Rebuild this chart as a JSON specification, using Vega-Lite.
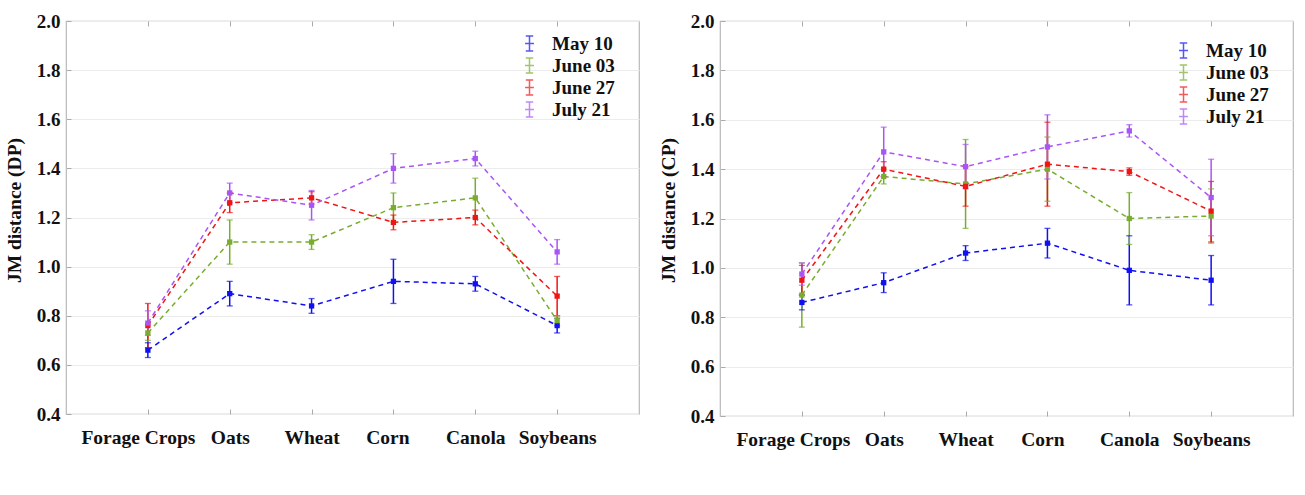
{
  "$schema": "https://vega.github.io/schema/vega-lite/v6.json",
  "background": "white",
  "padding": {"left": 3, "top": 11, "right": 2, "bottom": 4},
  "spacing": 17,
  "datasets": {
    "dp": [
      {"crop": "Forage Crops", "date": "May 10", "jm": 0.66, "lo": 0.63, "hi": 0.69},
      {"crop": "Forage Crops", "date": "June 03", "jm": 0.73, "lo": 0.70, "hi": 0.76},
      {"crop": "Forage Crops", "date": "June 27", "jm": 0.76, "lo": 0.67, "hi": 0.85},
      {"crop": "Forage Crops", "date": "July 21", "jm": 0.77, "lo": 0.72, "hi": 0.82},
      {"crop": "Oats", "date": "May 10", "jm": 0.89, "lo": 0.84, "hi": 0.94},
      {"crop": "Oats", "date": "June 03", "jm": 1.10, "lo": 1.01, "hi": 1.19},
      {"crop": "Oats", "date": "June 27", "jm": 1.26, "lo": 1.22, "hi": 1.30},
      {"crop": "Oats", "date": "July 21", "jm": 1.30, "lo": 1.26, "hi": 1.34},
      {"crop": "Wheat", "date": "May 10", "jm": 0.84, "lo": 0.81, "hi": 0.87},
      {"crop": "Wheat", "date": "June 03", "jm": 1.10, "lo": 1.07, "hi": 1.13},
      {"crop": "Wheat", "date": "June 27", "jm": 1.28, "lo": 1.255, "hi": 1.305},
      {"crop": "Wheat", "date": "July 21", "jm": 1.25, "lo": 1.19, "hi": 1.31},
      {"crop": "Corn", "date": "May 10", "jm": 0.94, "lo": 0.85, "hi": 1.03},
      {"crop": "Corn", "date": "June 03", "jm": 1.24, "lo": 1.18, "hi": 1.30},
      {"crop": "Corn", "date": "June 27", "jm": 1.18, "lo": 1.15, "hi": 1.21},
      {"crop": "Corn", "date": "July 21", "jm": 1.40, "lo": 1.34, "hi": 1.46},
      {"crop": "Canola", "date": "May 10", "jm": 0.93, "lo": 0.90, "hi": 0.96},
      {"crop": "Canola", "date": "June 03", "jm": 1.28, "lo": 1.20, "hi": 1.36},
      {"crop": "Canola", "date": "June 27", "jm": 1.20, "lo": 1.17, "hi": 1.23},
      {"crop": "Canola", "date": "July 21", "jm": 1.44, "lo": 1.41, "hi": 1.47},
      {"crop": "Soybeans", "date": "May 10", "jm": 0.76, "lo": 0.73, "hi": 0.79},
      {"crop": "Soybeans", "date": "June 03", "jm": 0.78, "lo": 0.76, "hi": 0.80},
      {"crop": "Soybeans", "date": "June 27", "jm": 0.88, "lo": 0.80, "hi": 0.96},
      {"crop": "Soybeans", "date": "July 21", "jm": 1.06, "lo": 1.01, "hi": 1.11}
    ],
    "cp": [
      {"crop": "Forage Crops", "date": "May 10", "jm": 0.86, "lo": 0.83, "hi": 0.89},
      {"crop": "Forage Crops", "date": "June 03", "jm": 0.89, "lo": 0.76, "hi": 1.02},
      {"crop": "Forage Crops", "date": "June 27", "jm": 0.95, "lo": 0.89, "hi": 1.01},
      {"crop": "Forage Crops", "date": "July 21", "jm": 0.975, "lo": 0.93, "hi": 1.02},
      {"crop": "Oats", "date": "May 10", "jm": 0.94, "lo": 0.90, "hi": 0.98},
      {"crop": "Oats", "date": "June 03", "jm": 1.37, "lo": 1.34, "hi": 1.40},
      {"crop": "Oats", "date": "June 27", "jm": 1.40, "lo": 1.37, "hi": 1.43},
      {"crop": "Oats", "date": "July 21", "jm": 1.47, "lo": 1.37, "hi": 1.57},
      {"crop": "Wheat", "date": "May 10", "jm": 1.06, "lo": 1.03, "hi": 1.09},
      {"crop": "Wheat", "date": "June 03", "jm": 1.34, "lo": 1.16, "hi": 1.52},
      {"crop": "Wheat", "date": "June 27", "jm": 1.33, "lo": 1.25, "hi": 1.41},
      {"crop": "Wheat", "date": "July 21", "jm": 1.41, "lo": 1.32, "hi": 1.50},
      {"crop": "Corn", "date": "May 10", "jm": 1.10, "lo": 1.04, "hi": 1.16},
      {"crop": "Corn", "date": "June 03", "jm": 1.40, "lo": 1.27, "hi": 1.53},
      {"crop": "Corn", "date": "June 27", "jm": 1.42, "lo": 1.25, "hi": 1.59},
      {"crop": "Corn", "date": "July 21", "jm": 1.49, "lo": 1.36, "hi": 1.62},
      {"crop": "Canola", "date": "May 10", "jm": 0.99, "lo": 0.85, "hi": 1.13},
      {"crop": "Canola", "date": "June 03", "jm": 1.20, "lo": 1.095, "hi": 1.305},
      {"crop": "Canola", "date": "June 27", "jm": 1.39, "lo": 1.375, "hi": 1.405},
      {"crop": "Canola", "date": "July 21", "jm": 1.555, "lo": 1.53, "hi": 1.58},
      {"crop": "Soybeans", "date": "May 10", "jm": 0.95, "lo": 0.85, "hi": 1.05},
      {"crop": "Soybeans", "date": "June 03", "jm": 1.21, "lo": 1.10, "hi": 1.32},
      {"crop": "Soybeans", "date": "June 27", "jm": 1.23, "lo": 1.105, "hi": 1.35},
      {"crop": "Soybeans", "date": "July 21", "jm": 1.285, "lo": 1.13, "hi": 1.44}
    ]
  },
  "resolve": {"legend": {"color": "independent"}, "scale": {"color": "shared"}},
  "hconcat": [
    {
      "width": 573,
      "height": 393,
      "data": {"name": "dp"},
      "resolve": {"axis": {"x": "independent"}},
      "encoding": {
        "x": {
          "field": "crop",
          "type": "ordinal",
          "sort": ["Forage Crops", "Oats", "Wheat", "Corn", "Canola", "Soybeans"],
          "scale": {"type": "point", "padding": 1},
          "axis": null,
          "title": null
        },
        "color": {
          "field": "date",
          "type": "nominal",
          "sort": ["May 10", "June 03", "June 27", "July 21"],
          "scale": {
            "domain": ["May 10", "June 03", "June 27", "July 21"],
            "range": ["#1010f2", "#78ad2f", "#f01515", "#a955f5"]
          },
          "legend": {"orient": "none", "legendX": 454, "legendY": 13}
        }
      },
      "layer": [
        {
          "mark": {"type": "line", "strokeDash": [5, 4], "strokeWidth": 1.5},
          "encoding": {
            "x": {
              "field": "crop",
              "type": "ordinal",
              "sort": ["Forage Crops", "Oats", "Wheat", "Corn", "Canola", "Soybeans"],
              "scale": {"type": "point", "padding": 1},
              "axis": {
                "orient": "bottom",
                "labelOffset": {"condition": [
                  {"test": "datum.value === 'Forage Crops'", "value": -10},
                  {"test": "datum.value === 'Corn'", "value": -6}
                ], "value": 0}
              },
              "title": null
            },
            "y": {
              "field": "jm",
              "type": "quantitative",
              "scale": {"domain": [0.4, 2.0]},
              "axis": {"values": [0.4, 0.6, 0.8, 1.0, 1.2, 1.4, 1.6, 1.8, 2.0], "format": ".1f", "titleY": 189},
              "title": "JM distance (DP)"
            }
          }
        },
        {
          "mark": {"type": "rule", "strokeWidth": 1.5},
          "encoding": {
            "x": {
              "field": "crop",
              "type": "ordinal",
              "sort": ["Forage Crops", "Oats", "Wheat", "Corn", "Canola", "Soybeans"],
              "scale": {"type": "point", "padding": 1},
              "axis": {"orient": "top", "labels": false},
              "title": null
            },
            "y": {"field": "lo", "type": "quantitative"},
            "y2": {"field": "hi"}
          }
        },
        {
          "mark": {"type": "tick", "size": 6, "thickness": 1.3},
          "encoding": {"y": {"field": "lo", "type": "quantitative"}}
        },
        {
          "mark": {"type": "tick", "size": 6, "thickness": 1.3},
          "encoding": {"y": {"field": "hi", "type": "quantitative"}}
        },
        {
          "mark": {"type": "point", "shape": "square", "filled": true, "size": 28, "opacity": 1},
          "encoding": {"y": {"field": "jm", "type": "quantitative"}}
        }
      ]
    },
    {
      "width": 573,
      "height": 395,
      "data": {"name": "cp"},
      "resolve": {"axis": {"x": "independent"}},
      "encoding": {
        "x": {
          "field": "crop",
          "type": "ordinal",
          "sort": ["Forage Crops", "Oats", "Wheat", "Corn", "Canola", "Soybeans"],
          "scale": {"type": "point", "padding": 1},
          "axis": null,
          "title": null
        },
        "color": {
          "field": "date",
          "type": "nominal",
          "sort": ["May 10", "June 03", "June 27", "July 21"],
          "scale": {
            "domain": ["May 10", "June 03", "June 27", "July 21"],
            "range": ["#1010f2", "#78ad2f", "#f01515", "#a955f5"]
          },
          "legend": {"orient": "none", "legendX": 454, "legendY": 20}
        }
      },
      "layer": [
        {
          "mark": {"type": "line", "strokeDash": [5, 4], "strokeWidth": 1.5},
          "encoding": {
            "x": {
              "field": "crop",
              "type": "ordinal",
              "sort": ["Forage Crops", "Oats", "Wheat", "Corn", "Canola", "Soybeans"],
              "scale": {"type": "point", "padding": 1},
              "axis": {
                "orient": "bottom",
                "labelOffset": {"condition": [
                  {"test": "datum.value === 'Forage Crops'", "value": -9},
                  {"test": "datum.value === 'Corn'", "value": -5}
                ], "value": 0}
              },
              "title": null
            },
            "y": {
              "field": "jm",
              "type": "quantitative",
              "scale": {"domain": [0.4, 2.0]},
              "axis": {"values": [0.4, 0.6, 0.8, 1.0, 1.2, 1.4, 1.6, 1.8, 2.0], "format": ".1f", "titleY": 189},
              "title": "JM distance (CP)"
            }
          }
        },
        {
          "mark": {"type": "rule", "strokeWidth": 1.5},
          "encoding": {
            "x": {
              "field": "crop",
              "type": "ordinal",
              "sort": ["Forage Crops", "Oats", "Wheat", "Corn", "Canola", "Soybeans"],
              "scale": {"type": "point", "padding": 1},
              "axis": {"orient": "top", "labels": false},
              "title": null
            },
            "y": {"field": "lo", "type": "quantitative"},
            "y2": {"field": "hi"}
          }
        },
        {
          "mark": {"type": "tick", "size": 6, "thickness": 1.3},
          "encoding": {"y": {"field": "lo", "type": "quantitative"}}
        },
        {
          "mark": {"type": "tick", "size": 6, "thickness": 1.3},
          "encoding": {"y": {"field": "hi", "type": "quantitative"}}
        },
        {
          "mark": {"type": "point", "shape": "square", "filled": true, "size": 28, "opacity": 1},
          "encoding": {"y": {"field": "jm", "type": "quantitative"}}
        }
      ]
    }
  ],
  "config": {
    "font": "Liberation Serif",
    "view": {"stroke": "#b9b9b9", "strokeWidth": 1.2},
    "axis": {
      "domain": false,
      "labelFont": "Liberation Serif",
      "labelFontWeight": "bold",
      "labelColor": "#111111",
      "titleFont": "Liberation Serif",
      "titleFontWeight": "bold",
      "titleFontSize": 19.5,
      "titleColor": "#111111",
      "tickColor": "#aaaaaa",
      "tickSize": -5,
      "gridColor": "#ececec",
      "gridWidth": 1
    },
    "axisX": {"grid": false, "labelPadding": 19, "labelAngle": 0, "labelFontSize": 19.5},
    "axisY": {"grid": true, "labelPadding": 11, "titlePadding": 12, "labelFontSize": 19},
    "legend": {
      "title": null,
      "labelFont": "Liberation Serif",
      "labelFontWeight": "bold",
      "labelFontSize": 19,
      "labelColor": "#111111",
      "symbolType": "M0,-1L0,1M-0.5,-1L0.5,-1M-0.5,1L0.5,1M-0.6,0L0.6,0",
      "symbolSize": 220,
      "symbolStrokeWidth": 1.5,
      "symbolFillColor": "transparent",
      "labelOffset": 13,
      "rowPadding": 1,
      "padding": 0
    }
  }
}
